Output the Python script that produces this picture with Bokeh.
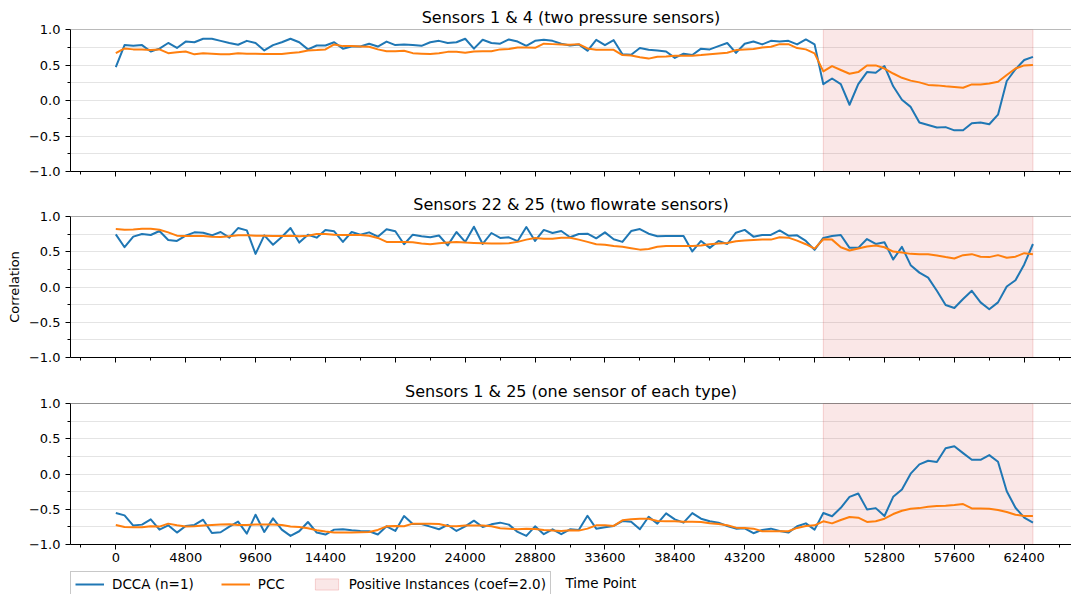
from bokeh.plotting import figure
from bokeh.layouts import column
from bokeh.models import FixedTicker, Legend, LegendItem, Label, Range1d, Span
from bokeh.embed import file_html
from bokeh.resources import INLINE

# ---------------- data ----------------
time_points = list(range(0, 63001, 600))

titles = [
    "Sensors 1 & 4 (two pressure sensors)",
    "Sensors 22 & 25 (two flowrate sensors)",
    "Sensors 1 & 25 (one sensor of each type)",
]

dcca_1_4 = [
    0.47, 0.78, 0.77, 0.78, 0.69, 0.73, 0.81, 0.74, 0.83, 0.82,
    0.87, 0.87, 0.84, 0.81, 0.785, 0.84, 0.81, 0.705, 0.78, 0.82,
    0.87, 0.82, 0.72, 0.775, 0.775, 0.82, 0.73, 0.76, 0.76, 0.80,
    0.76, 0.83, 0.78, 0.79, 0.78, 0.77, 0.82, 0.84, 0.81, 0.82,
    0.87, 0.73, 0.855, 0.81, 0.80, 0.86, 0.83, 0.77, 0.84, 0.855,
    0.84, 0.80, 0.775, 0.79, 0.70, 0.855, 0.78, 0.85, 0.65, 0.645,
    0.74, 0.715, 0.705, 0.69, 0.60, 0.66, 0.64, 0.73, 0.72, 0.765,
    0.81, 0.67, 0.80, 0.83, 0.79, 0.84, 0.83, 0.84, 0.79, 0.86,
    0.79, 0.23, 0.31, 0.23, -0.06, 0.23, 0.40, 0.39, 0.485, 0.20,
    0.01, -0.09, -0.31, -0.345, -0.38, -0.375, -0.42, -0.42, -0.32, -0.31,
    -0.335, -0.20, 0.275, 0.44, 0.57, 0.615,
]
pcc_1_4 = [
    0.667, 0.733, 0.72, 0.72, 0.71, 0.72, 0.667, 0.68, 0.69, 0.65,
    0.667, 0.66, 0.65, 0.65, 0.667, 0.66, 0.66, 0.655, 0.655, 0.655,
    0.67, 0.68, 0.705, 0.71, 0.72, 0.79, 0.766, 0.766, 0.76, 0.756,
    0.72, 0.695, 0.695, 0.70, 0.667, 0.66, 0.655, 0.667, 0.685, 0.685,
    0.672, 0.69, 0.695, 0.695, 0.72, 0.724, 0.747, 0.747, 0.742, 0.80,
    0.794, 0.79, 0.785, 0.794, 0.733, 0.714, 0.714, 0.714, 0.64, 0.635,
    0.61, 0.59, 0.616, 0.62, 0.63, 0.63, 0.63, 0.64, 0.653, 0.663,
    0.672, 0.71, 0.72, 0.724, 0.747, 0.757, 0.794, 0.794, 0.738, 0.72,
    0.663, 0.41, 0.485, 0.43, 0.377, 0.40, 0.494, 0.494, 0.45, 0.38,
    0.32, 0.28, 0.255, 0.22, 0.213, 0.20, 0.19, 0.18, 0.227, 0.227,
    0.24, 0.265, 0.36, 0.45, 0.494, 0.50,
]

dcca_22_25 = [
    0.747, 0.564, 0.714, 0.752, 0.738, 0.794, 0.667, 0.653, 0.728, 0.775,
    0.77, 0.733, 0.78, 0.70, 0.836, 0.803, 0.47, 0.733, 0.60, 0.71,
    0.836, 0.63, 0.742, 0.70, 0.81, 0.79, 0.64, 0.78, 0.742, 0.775,
    0.714, 0.82, 0.79, 0.607, 0.742, 0.72, 0.705, 0.73, 0.59, 0.78,
    0.64, 0.855, 0.61, 0.766, 0.696, 0.705, 0.65, 0.85, 0.653, 0.81,
    0.766, 0.794, 0.705, 0.752, 0.756, 0.69, 0.775, 0.677, 0.64, 0.794,
    0.822, 0.756, 0.72, 0.724, 0.724, 0.724, 0.504, 0.653, 0.555, 0.653,
    0.61, 0.77, 0.81, 0.714, 0.738, 0.738, 0.803, 0.728, 0.733, 0.653,
    0.527, 0.696, 0.724, 0.738, 0.555, 0.555, 0.68, 0.61, 0.635, 0.39,
    0.57, 0.31, 0.204, 0.133, -0.054, -0.255, -0.297, -0.17, -0.054, -0.218,
    -0.316, -0.218, 0.007, 0.096, 0.32, 0.61,
]
pcc_22_25 = [
    0.822, 0.813, 0.817, 0.827, 0.827, 0.813, 0.775, 0.728, 0.724, 0.724,
    0.724, 0.714, 0.71, 0.72, 0.733, 0.733, 0.728, 0.728, 0.724, 0.724,
    0.728, 0.72, 0.728, 0.752, 0.752, 0.742, 0.738, 0.738, 0.738, 0.728,
    0.696, 0.64, 0.64, 0.64, 0.635, 0.616, 0.607, 0.62, 0.63, 0.64,
    0.63, 0.625, 0.62, 0.616, 0.616, 0.62, 0.64, 0.672, 0.696, 0.686,
    0.686, 0.70, 0.70, 0.672, 0.64, 0.607, 0.60, 0.583, 0.57, 0.55,
    0.53, 0.54, 0.57, 0.58, 0.58, 0.58, 0.58, 0.588, 0.607, 0.616,
    0.625, 0.65, 0.658, 0.667, 0.672, 0.672, 0.705, 0.70, 0.658, 0.607,
    0.545, 0.677, 0.672, 0.564, 0.518, 0.545, 0.574, 0.588, 0.564, 0.503,
    0.49, 0.47, 0.466, 0.466, 0.447, 0.424, 0.405, 0.452, 0.466, 0.43,
    0.424, 0.452, 0.414, 0.43, 0.48, 0.466,
]

dcca_1_25 = [
    -0.554, -0.587, -0.732, -0.718, -0.643, -0.789, -0.728, -0.831, -0.737, -0.723,
    -0.648, -0.836, -0.826, -0.746, -0.676, -0.845, -0.577, -0.822, -0.629, -0.789,
    -0.878, -0.812, -0.681, -0.831, -0.859, -0.789, -0.784, -0.798, -0.808, -0.812,
    -0.859, -0.742, -0.808, -0.596, -0.709, -0.709, -0.746, -0.784, -0.723, -0.808,
    -0.742, -0.662, -0.751, -0.714, -0.69, -0.718, -0.822, -0.878, -0.742, -0.854,
    -0.784, -0.854, -0.784, -0.793, -0.592, -0.775, -0.756, -0.737, -0.667, -0.676,
    -0.784, -0.606, -0.704, -0.559, -0.643, -0.69, -0.554, -0.634, -0.671, -0.69,
    -0.737, -0.775, -0.77, -0.84, -0.793, -0.775, -0.808, -0.831, -0.742, -0.70,
    -0.789, -0.554, -0.60, -0.479, -0.324, -0.277, -0.502, -0.484, -0.596, -0.324,
    -0.22, 0.005, 0.136, 0.188, 0.169, 0.366, 0.394, 0.296, 0.202, 0.202,
    0.268, 0.174, -0.244, -0.479, -0.62, -0.69,
]
pcc_1_25 = [
    -0.723, -0.751, -0.756, -0.756, -0.742, -0.746, -0.704, -0.728, -0.746, -0.742,
    -0.732, -0.723, -0.718, -0.714, -0.723, -0.723, -0.718, -0.718, -0.718, -0.723,
    -0.746, -0.751, -0.77, -0.798, -0.817, -0.831, -0.831, -0.831, -0.826, -0.822,
    -0.793, -0.742, -0.737, -0.742, -0.704, -0.704, -0.704, -0.709, -0.737, -0.742,
    -0.732, -0.732, -0.732, -0.742, -0.77, -0.775, -0.784, -0.775, -0.779, -0.793,
    -0.803, -0.808, -0.798, -0.803, -0.775, -0.728, -0.728, -0.737, -0.657, -0.643,
    -0.634, -0.634, -0.667, -0.671, -0.671, -0.676, -0.676, -0.681, -0.70, -0.709,
    -0.728, -0.761, -0.765, -0.775, -0.812, -0.812, -0.812, -0.812, -0.765, -0.737,
    -0.728, -0.671, -0.70, -0.653, -0.61, -0.62, -0.68, -0.671, -0.634, -0.568,
    -0.521, -0.493, -0.484, -0.465, -0.455, -0.451, -0.441, -0.427, -0.488, -0.488,
    -0.493, -0.512, -0.54, -0.577, -0.596, -0.596,
]

band_start = [48600]
band_end = [63000]
band_bottom = [-1.0]
band_top = [1.0]

x_ticks = [0, 4800, 9600, 14400, 19200, 24000, 28800, 33600, 38400,
           43200, 48000, 52800, 57600, 62400]
x_minor_ticks = [-2400, 2400, 7200, 12000, 16800, 21600, 26400, 31200, 36000,
                 40800, 45600, 50400, 55200, 60000, 64800]
y_ticks = [-1.0, -0.5, 0.0, 0.5, 1.0]
y_tick_labels = ["\u22121.0", "\u22120.5", "0.0", "0.5", "1.0"]
y_minor_ticks = [-0.75, -0.25, 0.25, 0.75]

legend_labels = ["DCCA (n=1)", "PCC", "Positive Instances (coef=2.0)"]
y_label = "Correlation"
x_label = "Time Point"

# ---------------- style ----------------
FONT = "DejaVu Sans"
BLUE = "#1f77b4"
ORANGE = "#ff7f0e"
BAND = "#d62728"
GRID = "#e4e4e4"
W = 1071
X_START, X_END = -3112, 65648
X_LABEL_POS = 30890

x_range = Range1d(X_START, X_END)

series = [(dcca_1_4, pcc_1_4), (dcca_22_25, pcc_22_25), (dcca_1_25, pcc_1_25)]
heights = [190, 187, 190]
borders_top = [29, 25, 25]
borders_bottom = [19, 20, 23]
top_colors = ["#777777", "#555555", "#222222"]

figs = []
for k in range(3):
    dcca, pcc = series[k]
    p = figure(width=W, height=heights[k], x_range=x_range,
               y_range=Range1d(-1, 1), output_backend="svg",
               toolbar_location=None, title=titles[k],
               min_border_left=70, min_border_right=0,
               min_border_top=borders_top[k], min_border_bottom=borders_bottom[k])
    p.outline_line_color = None
    p.background_fill_color = "white"
    p.border_fill_color = "white"

    p.title.text_font = FONT
    p.title.text_font_size = "16px"
    p.title.text_font_style = "normal"
    p.title.text_color = "black"
    p.title.align = "center"
    p.title.standoff = 6 if k == 0 else 5
    p.title.offset = 3

    p.quad(left=band_start, right=band_end, bottom=band_bottom, top=band_top,
           fill_color=BAND, fill_alpha=0.11, line_color=BAND, line_alpha=0.18,
           line_width=1)
    p.line(time_points, dcca, line_color=BLUE, line_width=2, line_join="round")
    p.line(time_points, pcc, line_color=ORANGE, line_width=2, line_join="round")

    p.add_layout(Span(location=1.0, dimension="width", line_color=top_colors[k],
                      line_width=1.2))

    xa = p.xaxis[0]
    xa.ticker = FixedTicker(ticks=x_ticks, minor_ticks=x_minor_ticks)
    xa.axis_line_color = "black"
    xa.major_tick_line_color = "black"
    xa.minor_tick_line_color = "black"
    xa.major_tick_out = 5
    xa.major_tick_in = 0
    xa.minor_tick_out = 3
    xa.minor_tick_in = 0
    xa.major_label_text_font = FONT
    xa.major_label_text_color = "black"
    if k < 2:
        xa.major_label_overrides = {t: "" for t in x_ticks}
        xa.major_label_text_font_size = "8px"
        xa.major_label_standoff = 0
    else:
        xa.major_label_text_font_size = "13px"
        xa.major_label_standoff = 3

    ya = p.yaxis[0]
    ya.ticker = FixedTicker(ticks=y_ticks, minor_ticks=y_minor_ticks)
    ya.major_label_overrides = {t: s for t, s in zip(y_ticks, y_tick_labels)}
    ya.axis_line_color = "black"
    ya.major_tick_line_color = "black"
    ya.minor_tick_line_color = "black"
    ya.major_tick_out = 5
    ya.major_tick_in = 0
    ya.minor_tick_out = 3
    ya.minor_tick_in = 0
    ya.major_label_text_font = FONT
    ya.major_label_text_font_size = "13px"
    ya.major_label_text_color = "black"
    ya.major_label_standoff = 5
    if k == 1:
        ya.axis_label = y_label
        ya.axis_label_text_font = FONT
        ya.axis_label_text_font_size = "13px"
        ya.axis_label_text_font_style = "normal"
        ya.axis_label_text_color = "black"
        ya.axis_label_standoff = 4

    p.xgrid.visible = False
    p.ygrid.ticker = FixedTicker(ticks=y_ticks, minor_ticks=y_minor_ticks)
    p.ygrid.grid_line_color = GRID
    p.ygrid.grid_line_width = 1.2
    p.ygrid.minor_grid_line_color = GRID
    p.ygrid.minor_grid_line_width = 1.2
    figs.append(p)

# ---------------- legend row ----------------
leg_h = 594 - sum(heights)
off_view = Range1d(10, 11)   # the legend row shows no marks, only the key
pl = figure(width=W, height=leg_h, x_range=Range1d(X_START, X_END),
            y_range=off_view, output_backend="svg", toolbar_location=None,
            x_axis_location=None, y_axis_location=None,
            min_border_left=70, min_border_right=0, min_border_top=4,
            min_border_bottom=0)
pl.outline_line_color = None
pl.xgrid.visible = False
pl.ygrid.visible = False
rl_d = pl.line(time_points, dcca_1_25, line_color=BLUE, line_width=2)
rl_p = pl.line(time_points, pcc_1_25, line_color=ORANGE, line_width=2)
rl_b = pl.quad(left=band_start, right=band_end, bottom=band_bottom, top=band_top,
               fill_color=BAND, fill_alpha=0.11, line_color=BAND, line_alpha=0.18)
legend = Legend(items=[
    LegendItem(label=legend_labels[0], renderers=[rl_d]),
    LegendItem(label=legend_labels[1], renderers=[rl_p]),
    LegendItem(label=legend_labels[2], renderers=[rl_b]),
], orientation="horizontal", location="top_left")
legend.label_text_font = FONT
legend.label_text_font_size = "13.5px"
legend.label_text_color = "black"
legend.label_height = 14
legend.glyph_height = 14
legend.glyph_width = 29
legend.label_standoff = 8
legend.spacing = 27
legend.padding = 4
legend.margin = 0
legend.border_line_color = "#c8c8c8"
legend.border_line_width = 1
legend.border_line_alpha = 1.0
legend.background_fill_color = "white"
legend.background_fill_alpha = 1.0
pl.add_layout(legend)
pl.add_layout(Label(x=X_LABEL_POS, y=10.5, x_units="data", y_units="data",
                    text=x_label, text_font=FONT, text_font_size="13.5px",
                    text_color="black", text_baseline="middle", text_align="left"))
figs.append(pl)

layout = column(*figs, spacing=0)
open("out.html", "w").write(file_html(layout, INLINE))
